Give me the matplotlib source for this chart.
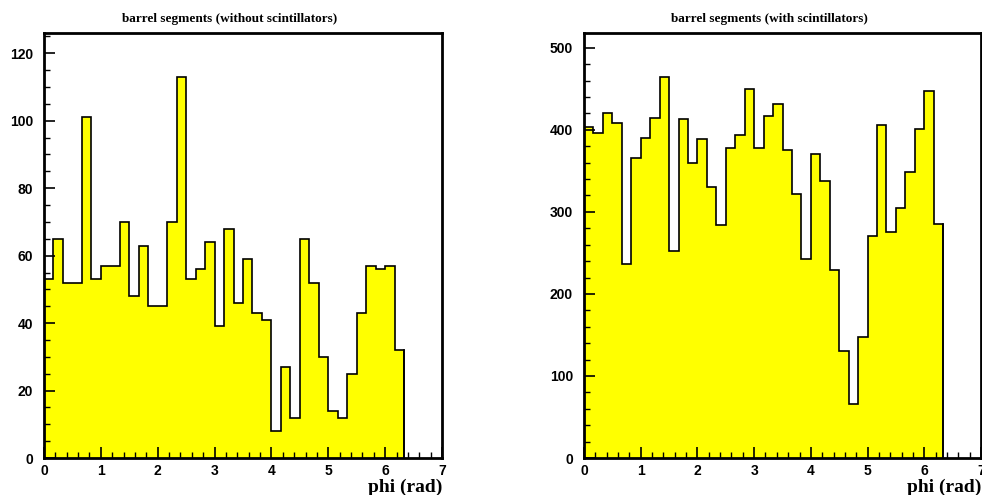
import numpy as np
import matplotlib
matplotlib.use("Agg")
import matplotlib.pyplot as plt
from matplotlib.ticker import MultipleLocator

# 38 bins of width 1/6 rad starting at 0
n_bins = 38
bin_width = 1.0 / 6.0

no_scint = [53, 65, 52, 52, 101, 53, 57, 57, 70, 48, 63, 45, 45, 70, 113, 53, 56, 64, 39,
            68, 46, 59, 43, 41, 8, 27, 12, 65, 52, 30, 14, 12, 25, 43, 57, 56, 57, 32]
with_scint = [403, 396, 420, 408, 237, 366, 390, 414, 464, 252, 413, 360, 389, 330, 284, 378,
              394, 450, 378, 417, 431, 376, 322, 242, 371, 338, 229, 131, 66, 147, 270, 406,
              275, 305, 348, 401, 447, 285]

titles = ["barrel segments (without scintillators)", "barrel segments (with scintillators)"]
xlabel = "phi (rad)"
ymax = [126, 518]
y_major = [20, 100]
y_minor = [5, 20]

edges = np.arange(n_bins + 1) * bin_width

fig = plt.figure(figsize=(9.82, 4.95), dpi=100)
positions = [[0.0448, 0.0747, 0.4053, 0.8586], [0.5947, 0.0747, 0.4043, 0.8586]]

for i, vals in enumerate([no_scint, with_scint]):
    ax = fig.add_axes(positions[i])
    ax.stairs(vals, edges, fill=True, facecolor="#ffff00", edgecolor="none", baseline=0)
    ax.stairs(vals, edges, fill=False, color="black", linewidth=1.2, baseline=0)
    ax.plot([edges[-1], edges[-1]], [0, vals[-1]], color="black", lw=1.2)
    ax.set_xlim(0, 7)
    ax.set_ylim(0, ymax[i])
    ax.xaxis.set_major_locator(MultipleLocator(1))
    ax.xaxis.set_minor_locator(MultipleLocator(0.2))
    ax.yaxis.set_major_locator(MultipleLocator(y_major[i]))
    ax.yaxis.set_minor_locator(MultipleLocator(y_minor[i]))
    ax.tick_params(which="major", direction="in", length=8, width=1.2, pad=4)
    ax.tick_params(axis="y", which="major", pad=8)
    ax.tick_params(which="minor", direction="in", length=4, width=1.0)
    for lab in ax.get_xticklabels() + ax.get_yticklabels():
        lab.set_fontfamily("Liberation Sans")
        lab.set_fontweight("bold")
        lab.set_fontsize(10)
    for sp in ax.spines.values():
        sp.set_linewidth(2)
    ax.text(0.467, 1.0 + 14 / 425, titles[i], transform=ax.transAxes, ha="center", va="center",
            fontfamily="Liberation Serif", fontweight="bold", fontsize=9.5)
    ax.text(1.0, -29 / 425, xlabel, transform=ax.transAxes, ha="right", va="center",
            fontfamily="Liberation Serif", fontweight="bold", fontsize=14)

fig.savefig("out.png", dpi=100)
